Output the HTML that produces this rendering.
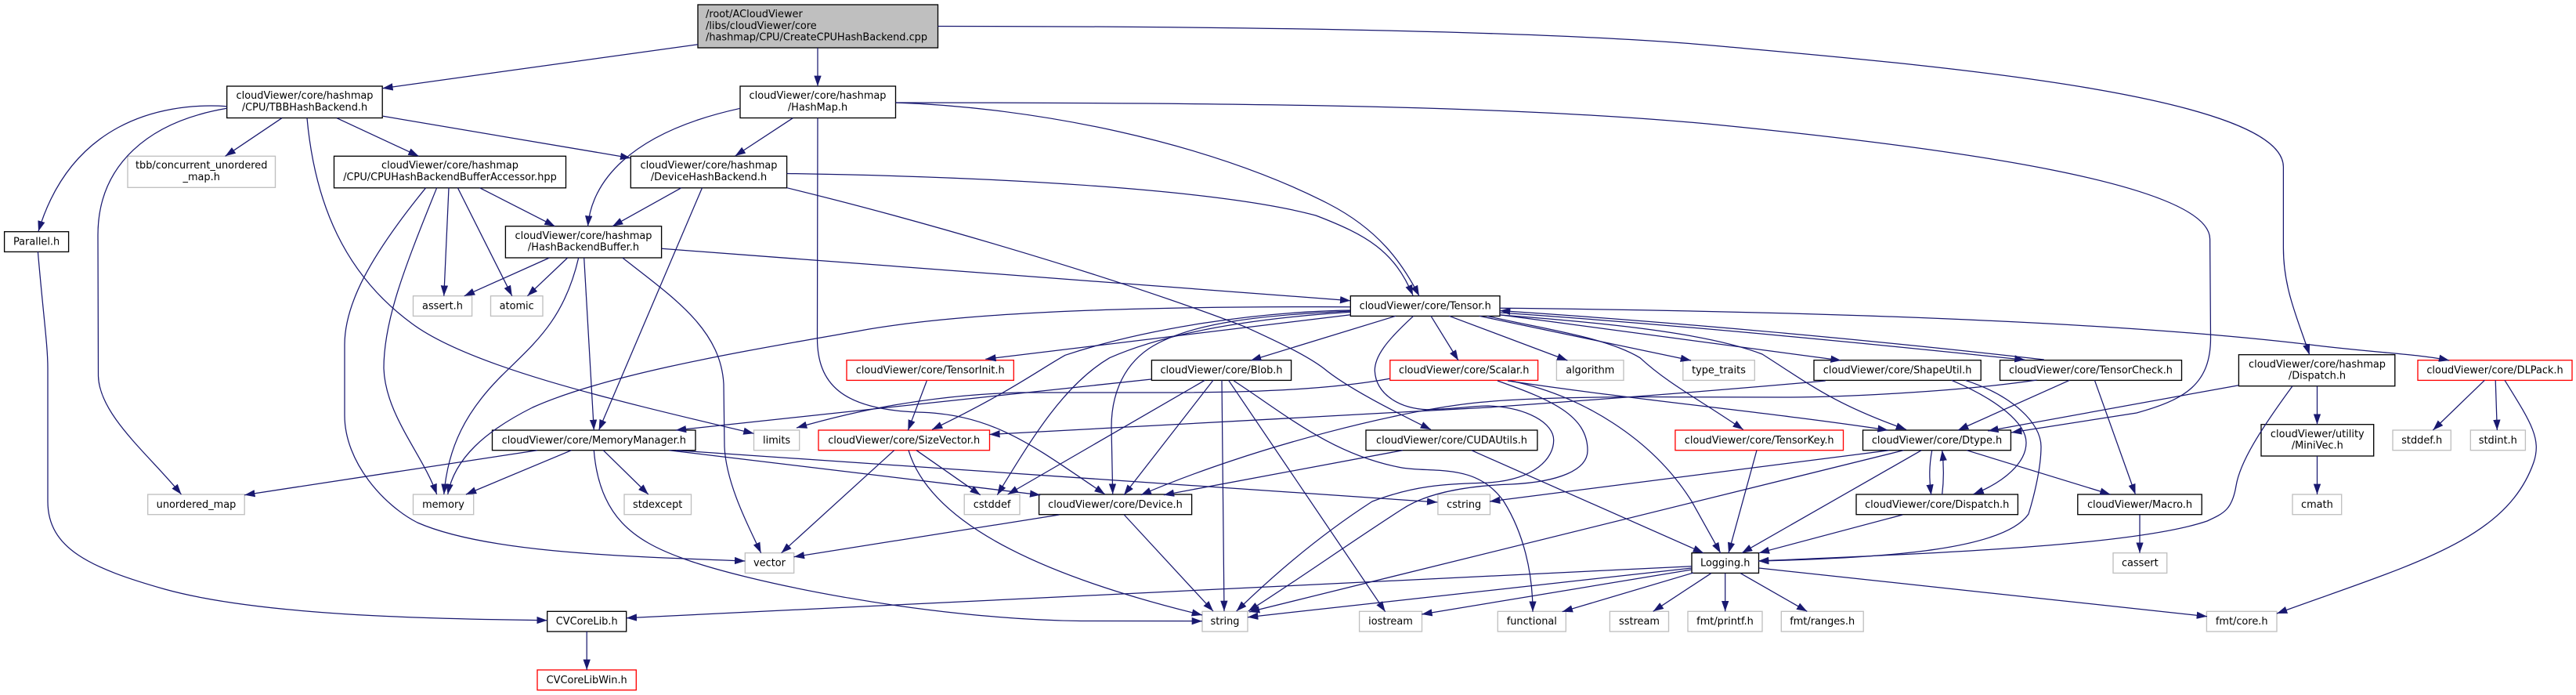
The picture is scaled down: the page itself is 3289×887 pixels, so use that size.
<!DOCTYPE html>
<html><head><meta charset="utf-8"><style>
html,body{margin:0;padding:0;background:#fff}
svg{display:block}
text{font-family:"DejaVu Sans",sans-serif;font-size:12.9px;fill:#000}
.n rect{fill:#fff;stroke:#000;stroke-width:1.33}
.g rect{fill:#fff;stroke:#bfbfbf;stroke-width:1.33}
.r rect{fill:#fff;stroke:#f00;stroke-width:1.33}
.t{text-anchor:middle}
#e path{fill:none;stroke:#191970;stroke-width:1.25;marker-end:url(#a)}
</style></head><body>
<svg width="3289" height="887" viewBox="0 0 3289 887" xmlns="http://www.w3.org/2000/svg">
<defs><marker id="a" markerUnits="userSpaceOnUse" markerWidth="14" markerHeight="10" refX="13.33" refY="4.67" orient="auto"><path d="M0,0L13.33,4.67L0,9.33Z" fill="#191970"/></marker></defs>
<g class="n">
<rect x="891" y="6" width="306.500" height="55" style="fill:#bfbfbf"/>
<text x="901" y="22">/root/ACloudViewer</text><text x="901" y="37">/libs/cloudViewer/core</text><text x="901" y="51.500">/hashmap/CPU/CreateCPUHashBackend.cpp</text>
<rect x="289.700" y="110" width="198.500" height="40.500"/><text class="t" x="389" y="126">cloudViewer/core/hashmap</text><text class="t" x="389" y="141">/CPU/TBBHashBackend.h</text>
<rect x="945" y="110" width="198.500" height="40.500"/><text class="t" x="1044" y="126">cloudViewer/core/hashmap</text><text class="t" x="1044" y="141">/HashMap.h</text>
<rect x="426.500" y="199.300" width="296" height="40.500"/><text class="t" x="574.500" y="215">cloudViewer/core/hashmap</text><text class="t" x="574.500" y="230">/CPU/CPUHashBackendBufferAccessor.hpp</text>
<rect x="805.300" y="199.300" width="199.300" height="40.500"/><text class="t" x="905" y="215">cloudViewer/core/hashmap</text><text class="t" x="905" y="230">/DeviceHashBackend.h</text>
<rect x="5.600" y="295.700" width="82" height="25.700"/><text class="t" x="46.600" y="312.500">Parallel.h</text>
<rect x="645.400" y="288.700" width="199.200" height="40.300"/><text class="t" x="745" y="305">cloudViewer/core/hashmap</text><text class="t" x="745" y="319.500">/HashBackendBuffer.h</text>
<rect x="1724.300" y="377.700" width="190.700" height="25.700"/><text class="t" x="1819.700" y="394.500">cloudViewer/core/Tensor.h</text>
<rect x="628.500" y="549" width="259.500" height="25.700"/><text class="t" x="758.300" y="565.800">cloudViewer/core/MemoryManager.h</text>
<rect x="698.700" y="780.300" width="101" height="25.700"/><text class="t" x="749.200" y="797.100">CVCoreLib.h</text>
<rect x="1470.400" y="459.700" width="178.200" height="25.700"/><text class="t" x="1559.500" y="476.500">cloudViewer/core/Blob.h</text>
<rect x="1744" y="549" width="218.900" height="25.700"/><text class="t" x="1853.500" y="565.800">cloudViewer/core/CUDAUtils.h</text>
<rect x="1326.600" y="631" width="195" height="25.700"/><text class="t" x="1424" y="647.800">cloudViewer/core/Device.h</text>
<rect x="2160" y="705.700" width="85.500" height="25.700"/><text class="t" x="2202.700" y="722.500">Logging.h</text>
<rect x="2316" y="459.700" width="213.200" height="25.700"/><text class="t" x="2422.600" y="476.500">cloudViewer/core/ShapeUtil.h</text>
<rect x="2553.500" y="459.700" width="232" height="25.700"/><text class="t" x="2669.500" y="476.500">cloudViewer/core/TensorCheck.h</text>
<rect x="2858.400" y="452.700" width="199.400" height="40"/><text class="t" x="2958.500" y="469">cloudViewer/core/hashmap</text><text class="t" x="2958.500" y="483.500">/Dispatch.h</text>
<rect x="2378.500" y="549" width="188.900" height="25.700"/><text class="t" x="2473" y="565.800">cloudViewer/core/Dtype.h</text>
<rect x="2887" y="541.700" width="143.700" height="40.300"/><text class="t" x="2958.800" y="558">cloudViewer/utility</text><text class="t" x="2958.800" y="572.500">/MiniVec.h</text>
<rect x="2370" y="631" width="206.400" height="25.700"/><text class="t" x="2473.200" y="647.800">cloudViewer/core/Dispatch.h</text>
<rect x="2652.800" y="631" width="158.400" height="25.700"/><text class="t" x="2732" y="647.800">cloudViewer/Macro.h</text>
</g>
<g class="g">
<rect x="163" y="199.300" width="188.500" height="40"/><text class="t" x="257.200" y="215">tbb/concurrent_unordered</text><text class="t" x="257.200" y="230">_map.h</text>
<rect x="527.500" y="377.700" width="75.100" height="25.700"/><text class="t" x="565" y="394.500">assert.h</text>
<rect x="626.500" y="377.700" width="66.500" height="25.700"/><text class="t" x="659.700" y="394.500">atomic</text>
<rect x="962.500" y="549" width="58.200" height="25.700"/><text class="t" x="991.600" y="565.800">limits</text>
<rect x="188.700" y="631" width="123.500" height="25.700"/><text class="t" x="250.500" y="647.800">unordered_map</text>
<rect x="527.500" y="631" width="77.200" height="25.700"/><text class="t" x="566" y="647.800">memory</text>
<rect x="797" y="631" width="85.500" height="25.700"/><text class="t" x="839.700" y="647.800">stdexcept</text>
<rect x="951.300" y="705.700" width="62.400" height="25.700"/><text class="t" x="982.500" y="722.500">vector</text>
<rect x="1987.400" y="459.700" width="85.600" height="25.700"/><text class="t" x="2030.200" y="476.500">algorithm</text>
<rect x="2148.800" y="459.700" width="91.500" height="25.700"/><text class="t" x="2194.500" y="476.500">type_traits</text>
<rect x="1231.200" y="631" width="70.800" height="25.700"/><text class="t" x="1266.600" y="647.800">cstddef</text>
<rect x="1835.900" y="631" width="66.600" height="25.700"/><text class="t" x="1869.200" y="647.800">cstring</text>
<rect x="1535" y="780.300" width="58" height="25.700"/><text class="t" x="1564" y="797.100">string</text>
<rect x="1735.600" y="780.300" width="79.900" height="25.700"/><text class="t" x="1775.500" y="797.100">iostream</text>
<rect x="1912.300" y="780.300" width="87" height="25.700"/><text class="t" x="1955.800" y="797.100">functional</text>
<rect x="2055.400" y="780.300" width="75.100" height="25.700"/><text class="t" x="2093" y="797.100">sstream</text>
<rect x="2155" y="780.300" width="95" height="25.700"/><text class="t" x="2202.500" y="797.100">fmt/printf.h</text>
<rect x="2274.300" y="780.300" width="104.900" height="25.700"/><text class="t" x="2326.700" y="797.100">fmt/ranges.h</text>
<rect x="2817.400" y="780.300" width="89.600" height="25.700"/><text class="t" x="2862.200" y="797.100">fmt/core.h</text>
<rect x="3055" y="549" width="74.300" height="25.700"/><text class="t" x="3092.200" y="565.800">stddef.h</text>
<rect x="3154.300" y="549" width="70.100" height="25.700"/><text class="t" x="3189.300" y="565.800">stdint.h</text>
<rect x="2927" y="631" width="62.700" height="25.700"/><text class="t" x="2958.400" y="647.800">cmath</text>
<rect x="2698" y="705.700" width="68.700" height="25.700"/><text class="t" x="2732.300" y="722.500">cassert</text>
</g>
<g class="r">
<rect x="686" y="855" width="126.300" height="25.700"/><text class="t" x="749.200" y="871.800">CVCoreLibWin.h</text>
<rect x="1081" y="459.700" width="213.300" height="25.700"/><text class="t" x="1187.700" y="476.500">cloudViewer/core/TensorInit.h</text>
<rect x="1045" y="549" width="218.500" height="25.700"/><text class="t" x="1154.200" y="565.800">cloudViewer/core/SizeVector.h</text>
<rect x="1774.800" y="459.700" width="188.800" height="25.700"/><text class="t" x="1869.200" y="476.500">cloudViewer/core/Scalar.h</text>
<rect x="2138.900" y="549" width="214.600" height="25.700"/><text class="t" x="2246.200" y="565.800">cloudViewer/core/TensorKey.h</text>
<rect x="3087" y="459.700" width="197" height="25.700"/><text class="t" x="3185.500" y="476.500">cloudViewer/core/DLPack.h</text>
</g>
<g id="e">
<path d="M891,56.700L488.300,112.700"/>
<path d="M1044,61L1044,110"/>
<path d="M1197.500,33.500C1600,33.500 2000,40 2200,59.300C2450,82 2915,120 2915.400,213L2915.400,316.700C2915.400,370 2935,410 2948.700,452.700"/>
<path d="M1143.500,131C1320,137 1540,180 1696,260C1760,293 1790,335 1812,377.700"/>
<path d="M1012.300,150.700L938.600,199"/>
<path d="M945,138.300C800,170 755,235 750.600,288.700"/>
<path d="M1143.500,131C1600,131 1950,135 2200,160C2500,190 2821,235 2821.600,305L2822.500,430C2823,490 2790,510 2728,527L2568,552"/>
<path d="M1044,150.500L1043.500,430C1043,490 1075,522 1170,526C1270,528 1320,570 1410.700,630.700"/>
<path d="M359.900,150.700L287.600,199.300"/>
<path d="M430,150.700L534.600,199.300"/>
<path d="M489,148.300L805.300,201.700"/>
<path d="M289.700,135.700C200,130 90,160 49,295.300"/>
<path d="M289.700,138.300C190,155 125,210 125,300L125.500,480C127,530 190,580 231.500,631"/>
<path d="M392,150.700C402,260 440,350 526,413C600,468 780,510 962.500,553.300"/>
<path d="M612.400,239.700L708.500,288.700"/>
<path d="M573,239.700L566.800,377.700"/>
<path d="M584.400,239.700L653.800,377.700"/>
<path d="M557.700,239.700C515,345 490,410 490,470C492,530 540,580 557.700,631"/>
<path d="M543.700,239.700C470,330 440,390 440,440L440,530C440,590 490,645 533,667C620,705 790,710 951.300,716"/>
<path d="M870,239.700L782,288.700"/>
<path d="M896.500,239.700L764.600,549"/>
<path d="M1004.600,221.500C1250,225 1550,240 1680,275C1745,300 1780,320 1804,377"/>
<path d="M1004.600,239.700C1150,275 1400,345 1588.700,416.700C1640,440 1670,455 1690,470C1720,495 1780,525 1827,548.300"/>
<path d="M844.600,317.300L1724.300,383.700"/>
<path d="M701.500,329L592.800,377.700"/>
<path d="M724.700,329L673.400,377.700"/>
<path d="M738.700,329C720,410 680,440 640,480C595,525 572,570 566.800,631"/>
<path d="M745.700,329L758.300,549"/>
<path d="M794.800,329C860,380 920,420 924,490L925,570C927,620 960,680 971.600,705.700"/>
<path d="M686,574.700L312.200,631.700"/>
<path d="M729.600,574.700L594.900,631"/>
<path d="M770.300,574.700L827.800,631"/>
<path d="M854.400,574.700L1328.300,631.700"/>
<path d="M862.800,574.700L1835.300,641"/>
<path d="M758.300,574.700C765,660 810,690 870,712C950,742 1180,790 1380,792.500L1535,792.700"/>
<path d="M1160,574.700C1190,675 1350,740 1535,785"/>
<path d="M1141.700,574.700L997.600,705.700"/>
<path d="M1170,574.700L1251.700,631.700"/>
<path d="M1183.300,486L1159.300,549.300"/>
<path d="M1470,484L862.800,549"/>
<path d="M1774.300,483.300C1700,497 1600,501 1500,501L1300,501C1180,505 1090,525 1017,546"/>
<path d="M1549,485.300L1435,631.700"/>
<path d="M1538.400,485.300L1286.700,631"/>
<path d="M1560,485.300L1563,780"/>
<path d="M1568.600,485.300L1768.700,780.700"/>
<path d="M1575.300,486C1640,528 1700,580 1788.700,596.700C1830,604 1885,590 1920,640C1945,680 1957,730 1957,780.700"/>
<path d="M1928.700,486C2020,505 2110,560 2160,640L2196.700,705.700"/>
<path d="M1912,486C1980,510 2027,530 2027,575C2027,600 1990,615 1930,618C1870,620 1820,630 1790,650C1720,695 1650,745 1593.700,780"/>
<path d="M1804.700,403.300C1770,435 1755,455 1755.300,473.300C1757,505 1790,522 1822,522.700C1860,522 1880,518 1900,518C1950,520 1983.700,540 1983.700,561.700C1983.700,585 1960,612 1900,616C1850,618 1810,618 1752,640C1690,680 1630,730 1578.700,780"/>
<path d="M2600.700,485C2500,500 2350,507 2277,507L2144,506.700C2050,506 1950,508 1898.700,512.700C1800,520 1600,570 1456.700,631.700"/>
<path d="M2330.700,486C2200,498 2040,510 1900,520L1263.300,554.500"/>
<path d="M1925,486C2100,512 2250,525 2410.700,549"/>
<path d="M1782,403.300L1597,460"/>
<path d="M1827,403.300L1862,460"/>
<path d="M1850.300,403.300L2001.300,460"/>
<path d="M1888.700,403.300L2159,460"/>
<path d="M1915,401.700L2350.700,460"/>
<path d="M1915,399C2150,415 2400,440 2585.500,459.300"/>
<path d="M2609.800,459C2400,435 2150,412 1915,396.500"/>
<path d="M1915,402C2050,412 2180,425 2250,452C2310,490 2340,515 2434,548.300"/>
<path d="M1915,393.300C2300,397 2700,410 2950,440C3030,450 3090,452 3127.200,460"/>
<path d="M1898.700,403.300C1970,420 2050,430 2094,456.700C2130,490 2170,510 2225.700,548.300"/>
<path d="M1724.300,391.700C1500,391 1250,395 1100,421.700C970,445 780,475 680,520C620,550 580,585 571.700,631"/>
<path d="M1724.300,401.700L1258.300,458.300"/>
<path d="M1724.300,396C1600,398 1460,420 1360,453.300C1325,473 1290,500 1190,548.300"/>
<path d="M1724.300,398.300C1620,405 1500,420 1416.700,456.700C1360,490 1320,555 1273.300,631.700"/>
<path d="M1724.300,397C1620,402 1520,410 1466.700,445C1430,470 1419,510 1419,545L1420.700,630.700"/>
<path d="M2430.700,574.700L1595,781"/>
<path d="M2412.300,574.700L1902,640"/>
<path d="M2453.300,574.700L2224,705.700"/>
<path d="M2466.700,574.700C2463,595 2463,610 2465.700,631.700"/>
<path d="M2479.700,631C2482,612 2482,595 2479.700,574.700"/>
<path d="M2511,574.700L2694.500,631"/>
<path d="M2429.200,657L2245.800,705.700"/>
<path d="M2491.700,485.300C2550,510 2587,540 2587,565C2587,590 2560,615 2519.500,630.700"/>
<path d="M2509,485.300C2570,505 2606,540 2606,570C2606,600 2595,640 2590,656C2560,700 2420,712 2245,716"/>
<path d="M2858.400,491.700L2538.200,550"/>
<path d="M2958.500,492.700L2958.500,541.700"/>
<path d="M2927,492.700C2885,550 2860,590 2855,620C2850,650 2840,655 2818,665C2730,695 2500,705 2245,716"/>
<path d="M2958.500,582L2958.500,631"/>
<path d="M2732,657L2732,705.700"/>
<path d="M2674.400,485.300L2726.500,631"/>
<path d="M2642.400,485.300L2500,549"/>
<path d="M2243,574.700L2207,705.700"/>
<path d="M1791,574.700L1485.800,631.700"/>
<path d="M1878.700,574.700L2175,705.700"/>
<path d="M1435.300,657L1549,780"/>
<path d="M1352.500,657L1013.700,710.700"/>
<path d="M2160,722.700L799.700,788.700"/>
<path d="M2160,725L1593,787.700"/>
<path d="M2160,727L1815.300,784"/>
<path d="M2162,731L1994.700,780.700"/>
<path d="M2184.700,731.700L2110.700,780.300"/>
<path d="M2202.700,731.700L2202.700,780.300"/>
<path d="M2222.300,731.700L2307.300,780.300"/>
<path d="M2245.700,725L2818,786.700"/>
<path d="M48.400,321.300C55,400 61,440 61,470L61,640C61,700 115,725 210.500,752C330,785 540,790 698.700,791.700"/>
<path d="M749.200,806L749.200,855"/>
<path d="M3172.300,485.300L3106.400,549"/>
<path d="M3186.200,485.300L3188.300,549"/>
<path d="M3198,485.300C3232,540 3245,560 3235,590C3200,690 3080,720 2907,783"/>
</g>
</svg>
</body></html>
